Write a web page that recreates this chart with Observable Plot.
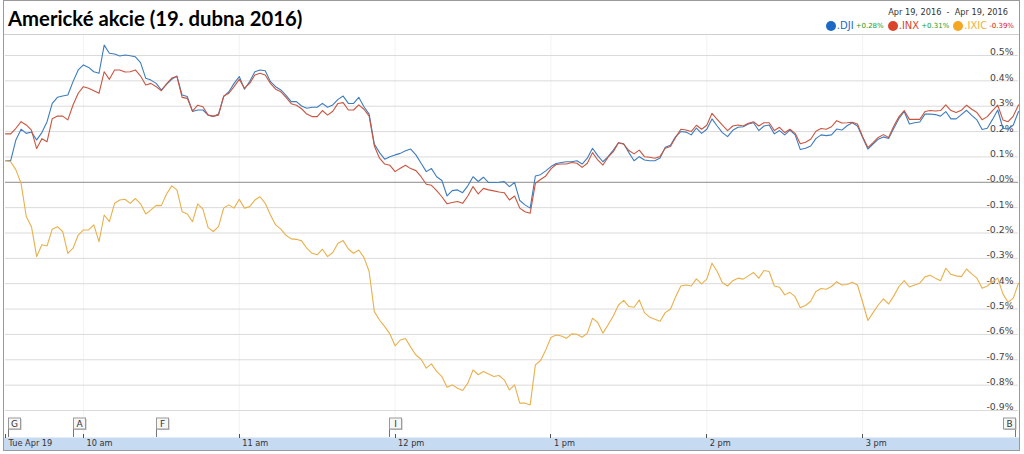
<!DOCTYPE html>
<html>
<head>
<meta charset="utf-8">
<script src="https://cdn.jsdelivr.net/npm/d3@7"></script>
<script src="https://cdn.jsdelivr.net/npm/@observablehq/plot@0.6"></script>
<style>
  html, body { margin: 0; padding: 0; background: #fff; }
  #wrap { position: relative; width: 1024px; height: 454px; overflow: hidden; font-family: "DejaVu Sans", Verdana, sans-serif; }
  #frame { position: absolute; left: 3px; top: 0; width: 1015px; height: 449px; border: 1px solid #9a9a9a; pointer-events: none; z-index: 5; }
  #titlebar { position: absolute; left: 4px; top: 0; width: 1015px; height: 34px; border-bottom: 1px solid #cfcfcf; z-index: 4; background: #fff; }
  #title { position: absolute; left: 4px; top: 6px; font: bold 20.3px Lato, sans-serif; color: #000; white-space: nowrap; }
  #range { position: absolute; right: 11px; top: 7px; font-size: 8.2px; color: #333; white-space: pre; }
  #legend { position: absolute; right: 5px; top: 20px; font-size: 10px; white-space: nowrap; display: flex; align-items: center; }
  #legend .item { display: flex; align-items: center; margin-left: 4px; }
  #legend .dot { width: 10px; height: 10px; border-radius: 50%; display: inline-block; margin-right: 1px; }
  #legend .chg { font-size: 7px; margin-left: 2px; }
  #chart { position: absolute; left: 0; top: 35px; }
</style>
</head>
<body>
<div id="wrap">
  <div id="titlebar">
    <div id="title"></div>
    <div id="range"></div>
    <div id="legend"></div>
  </div>
  <div id="chart"></div>
  <div id="frame"></div>
</div>
<script>
// ---- text ----
const titleText = "Americké akcie (19. dubna 2016)";
const rangeText = "Apr 19, 2016  -  Apr 19, 2016";

// ---- series ----
const seriesNames = [".DJI", ".INX", ".IXIC"];
const seriesChanges = ["+0.28%", "+0.31%", "-0.39%"];
const seriesLineColors = ["#3d7cbf", "#c9553f", "#e9b04b"];
const seriesDotColors = ["#1b69c4", "#d9452a", "#f5a623"];
const seriesTextColors = ["#1b69c4", "#d9452a", "#f2b134"];

// sampling: first sample time and spacing (minutes)
const sessionStart = "09:30";
const sessionEnd = "16:00";
const stepMinutes = 2;

// percent change from previous close, every 2 minutes from 9:30
const dji = [
0.085,0.085,0.167,0.209,0.193,0.198,0.167,0.196,0.239,0.311,
0.335,0.340,0.344,0.397,0.443,0.463,0.453,0.436,0.430,0.541,
0.509,0.506,0.498,0.502,0.499,0.495,0.472,0.410,0.403,0.390,
0.364,0.386,0.406,0.419,0.344,0.338,0.279,0.285,0.285,0.265,
0.259,0.269,0.338,0.357,0.390,0.417,0.367,0.397,0.436,0.443,
0.440,0.397,0.377,0.364,0.343,0.318,0.318,0.301,0.292,0.296,
0.296,0.311,0.296,0.305,0.327,0.340,0.311,0.311,0.335,0.298,
0.269,0.151,0.117,0.091,0.101,0.108,0.114,0.124,0.131,0.108,
0.075,0.042,0.054,0.022,0.007,-0.054,-0.033,-0.030,-0.041,-0.014,
0.022,0.003,0.020,-0.001,-0.001,0.000,0.003,-0.017,-0.001,-0.072,
-0.089,-0.102,0.025,0.030,0.045,0.062,0.074,0.078,0.081,0.081,
0.085,0.072,0.095,0.134,0.105,0.081,0.101,0.127,0.156,0.152,
0.117,0.085,0.101,0.088,0.085,0.085,0.096,0.138,0.146,0.180,
0.200,0.198,0.187,0.214,0.193,0.209,0.250,0.222,0.196,0.180,
0.205,0.217,0.219,0.230,0.235,0.204,0.222,0.226,0.191,0.204,
0.187,0.206,0.187,0.129,0.134,0.143,0.172,0.187,0.184,0.187,
0.210,0.206,0.223,0.235,0.222,0.177,0.131,0.151,0.170,0.179,
0.173,0.213,0.252,0.279,0.230,0.235,0.238,0.269,0.269,0.267,
0.261,0.279,0.250,0.250,0.267,0.284,0.264,0.246,0.208,0.213,
0.248,0.285,0.213,0.209,0.226,0.279
];
const inx = [
0.191,0.191,0.213,0.239,0.226,0.206,0.133,0.172,0.160,0.251,
0.261,0.261,0.246,0.305,0.351,0.377,0.371,0.361,0.351,0.436,
0.406,0.443,0.443,0.435,0.436,0.443,0.419,0.384,0.390,0.377,
0.361,0.388,0.411,0.417,0.335,0.331,0.281,0.304,0.298,0.265,
0.261,0.265,0.340,0.351,0.377,0.406,0.371,0.390,0.423,0.430,
0.423,0.390,0.367,0.357,0.335,0.310,0.304,0.290,0.269,0.259,
0.259,0.283,0.265,0.280,0.311,0.314,0.285,0.285,0.305,0.288,
0.261,0.143,0.095,0.072,0.067,0.042,0.055,0.067,0.054,0.046,
0.022,-0.008,-0.012,-0.033,-0.057,-0.085,-0.080,-0.076,-0.083,-0.054,
-0.017,-0.046,-0.024,-0.030,-0.034,-0.038,-0.041,-0.070,-0.054,-0.102,
-0.116,-0.122,-0.004,0.011,0.025,0.053,0.070,0.072,0.072,0.078,
0.075,0.059,0.075,0.117,0.088,0.068,0.099,0.121,0.156,0.150,
0.125,0.112,0.127,0.101,0.099,0.095,0.102,0.134,0.141,0.177,
0.209,0.206,0.200,0.225,0.209,0.225,0.272,0.248,0.225,0.204,
0.222,0.226,0.222,0.233,0.239,0.222,0.235,0.235,0.204,0.217,
0.196,0.209,0.193,0.152,0.158,0.170,0.201,0.212,0.209,0.219,
0.243,0.234,0.235,0.237,0.230,0.180,0.137,0.156,0.177,0.188,
0.177,0.222,0.259,0.283,0.248,0.248,0.248,0.279,0.283,0.281,
0.283,0.305,0.283,0.275,0.284,0.304,0.288,0.275,0.247,0.259,
0.283,0.304,0.246,0.239,0.261,0.305
];
const ixic = [
0.085,0.081,0.049,-0.004,-0.135,-0.175,-0.293,-0.246,-0.251,-0.185,
-0.175,-0.194,-0.280,-0.260,-0.208,-0.188,-0.188,-0.168,-0.234,-0.129,
-0.155,-0.083,-0.070,-0.067,-0.083,-0.064,-0.085,-0.125,-0.109,-0.091,
-0.092,-0.046,-0.014,-0.030,-0.116,-0.125,-0.155,-0.085,-0.106,-0.179,
-0.194,-0.175,-0.102,-0.089,-0.102,-0.067,-0.102,-0.096,-0.070,-0.057,
-0.083,-0.129,-0.168,-0.185,-0.209,-0.223,-0.225,-0.231,-0.260,-0.280,
-0.286,-0.264,-0.293,-0.277,-0.240,-0.230,-0.263,-0.280,-0.267,-0.296,
-0.352,-0.510,-0.543,-0.569,-0.598,-0.645,-0.622,-0.616,-0.650,-0.681,
-0.698,-0.733,-0.716,-0.746,-0.766,-0.808,-0.799,-0.812,-0.821,-0.792,
-0.740,-0.759,-0.746,-0.756,-0.766,-0.762,-0.779,-0.819,-0.799,-0.871,
-0.871,-0.878,-0.720,-0.703,-0.661,-0.612,-0.602,-0.606,-0.615,-0.598,
-0.599,-0.611,-0.595,-0.536,-0.553,-0.595,-0.562,-0.527,-0.484,-0.466,
-0.490,-0.493,-0.464,-0.514,-0.532,-0.540,-0.548,-0.514,-0.501,-0.451,
-0.409,-0.405,-0.409,-0.381,-0.401,-0.382,-0.319,-0.352,-0.396,-0.409,
-0.388,-0.378,-0.382,-0.369,-0.356,-0.378,-0.348,-0.352,-0.409,-0.414,
-0.444,-0.434,-0.451,-0.495,-0.486,-0.469,-0.431,-0.419,-0.422,-0.411,
-0.392,-0.405,-0.403,-0.394,-0.405,-0.473,-0.545,-0.514,-0.484,-0.460,
-0.480,-0.448,-0.411,-0.388,-0.413,-0.405,-0.398,-0.373,-0.367,-0.378,
-0.388,-0.339,-0.363,-0.369,-0.372,-0.342,-0.361,-0.378,-0.418,-0.409,
-0.392,-0.378,-0.440,-0.473,-0.457,-0.398
];

// ---- axes ----
const yTicks = [0.5, 0.4, 0.3, 0.2, 0.1, 0, -0.1, -0.2, -0.3, -0.4, -0.5, -0.6, -0.7, -0.8, -0.9];
const yTickLabels = ["0.5%", "0.4%", "0.3%", "0.2%", "0.1%", "-0.0%", "-0.1%", "-0.2%", "-0.3%", "-0.4%", "-0.5%", "-0.6%", "-0.7%", "-0.8%", "-0.9%"];
const xTickTimes = ["09:30", "10:00", "11:00", "12:00", "13:00", "14:00", "15:00"];
const xTickLabels = ["Tue Apr 19", "10 am", "11 am", "12 pm", "1 pm", "2 pm", "3 pm"];
const gridTimes = ["10:00", "11:00", "12:00", "13:00", "14:00", "15:00"];

// ---- news flags ----
const flagLetters = ["G", "A", "F", "I", "B"];
const flagTimes = ["09:31", "09:56", "10:28", "11:58", "15:59"];

// ---- build ----
const toDate = s => { const [h, m] = s.split(":").map(Number); return new Date(2016, 3, 19, h, m); };
const t0 = toDate(sessionStart);
const rows = [];
[dji, inx, ixic].forEach((vals, s) => vals.forEach((v, i) => rows.push({
  series: seriesNames[s], time: new Date(+t0 + i * stepMinutes * 60000), value: v
})));
const xTickDates = xTickTimes.map(toDate);
const gridDates = gridTimes.map(toDate);
const flags = flagLetters.map((l, i) => ({letter: l, time: toDate(flagTimes[i])}));

document.getElementById("title").textContent = titleText;
document.getElementById("range").textContent = rangeText;
const legend = document.getElementById("legend");
seriesNames.forEach((n, i) => {
  const it = document.createElement("span"); it.className = "item";
  const dot = document.createElement("span"); dot.className = "dot"; dot.style.background = seriesDotColors[i];
  const nm = document.createElement("span"); nm.textContent = n; nm.style.color = seriesTextColors[i];
  const ch = document.createElement("span"); ch.className = "chg"; ch.textContent = seriesChanges[i];
  ch.style.color = seriesChanges[i].startsWith("-") ? "#d62020" : "#1d9a2a";
  it.append(dot, nm, ch); legend.append(it);
});

const bandMark = (index, scales, values, dims) => {
  const g = d3.create("svg:g");
  const top = dims.height - dims.marginBottom;
  g.append("rect").attr("x", dims.marginLeft - 1).attr("y", top + 0.5)
    .attr("width", dims.width - dims.marginLeft - dims.marginRight + 2).attr("height", 12.5)
    .attr("fill", "#c6daf1");
  xTickDates.forEach(d => {
    const x = Math.round(scales.x(d)) + 0.5;
    g.append("line").attr("x1", x).attr("x2", x).attr("y1", top - 3).attr("y2", top + 1)
      .attr("stroke", "#555").attr("stroke-width", 1);
  });
  return g.node();
};

const flagMark = (index, scales, values, dims) => {
  const g = d3.create("svg:g");
  const top = dims.height - dims.marginBottom;
  const bw = 12, bh = 11, by = top - 19;
  flags.forEach(f => {
    const sx = Math.round(scales.x(f.time)) + 0.5;
    const flip = sx + bw > dims.width - dims.marginRight;
    const bx = flip ? sx - bw : sx;
    g.append("line").attr("x1", sx).attr("x2", sx).attr("y1", by + bh).attr("y2", top)
      .attr("stroke", "#777");
    g.append("rect").attr("x", bx + 1).attr("y", by + 1).attr("width", bw).attr("height", bh)
      .attr("fill", "#bbb");
    g.append("rect").attr("x", bx).attr("y", by).attr("width", bw).attr("height", bh)
      .attr("fill", "#f7f7f7").attr("stroke", "#999");
    g.append("text").attr("x", bx + bw / 2).attr("y", by + bh / 2 + 0.5)
      .attr("text-anchor", "middle").attr("dominant-baseline", "central")
      .attr("font-size", 9).attr("fill", "#333").text(f.letter);
  });
  return g.node();
};

const chart = Plot.plot({
  width: 1024,
  height: 419,
  marginLeft: 5,
  marginRight: 6,
  marginTop: 0,
  marginBottom: 17,
  x: {type: "time", domain: [toDate(sessionStart), toDate(sessionEnd)]},
  y: {domain: [-0.9, 0.5], range: [375, 20]},
  color: {domain: seriesNames, range: seriesLineColors},
  style: {fontFamily: "DejaVu Sans, Verdana, sans-serif", background: "transparent", color: "#333", overflow: "visible"},
  marks: [
    bandMark,
    Plot.gridX(gridDates, {stroke: "#000", strokeOpacity: 0.05}),
    Plot.ruleY(yTicks.filter(d => d !== 0), {stroke: "#dadada"}),
    Plot.ruleY([0], {stroke: "#8c8c8c"}),
    Plot.axisY({anchor: "right", label: null, ticks: yTicks, tickFormat: d => yTickLabels[yTicks.indexOf(d)],
      tickSize: 0, tickPadding: 0, textAnchor: "end", dx: -5, dy: -3, fontSize: 9.3, fill: "#444"}),
    Plot.axisX({label: null, ticks: xTickDates, tickFormat: d => xTickLabels[xTickDates.findIndex(t => +t === +d)],
      tickSize: 0, tickPadding: 3, textAnchor: "start", dx: 3, fontSize: 8.2, fill: "#333"}),
    Plot.line(rows, {x: "time", y: "value", z: "series", stroke: "series", strokeWidth: 1.1}),
    flagMark
  ]
});
document.getElementById("chart").append(chart);
</script>
</body>
</html>
